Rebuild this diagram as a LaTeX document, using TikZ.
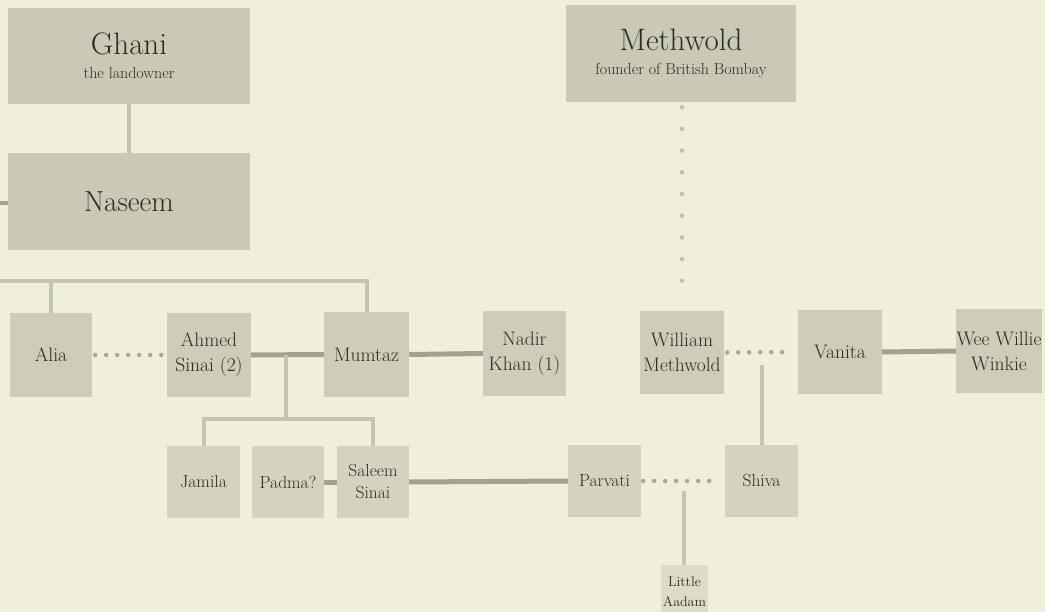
\documentclass[tikz,border=0pt]{standalone}
\usepackage{xcolor}
\definecolor{bgc}{HTML}{F0EFD9}
\definecolor{bigc}{HTML}{C9C9B6}
\definecolor{midc}{HTML}{CDCDBA}
\definecolor{smallc}{HTML}{D3D3BF}
\definecolor{tinyc}{HTML}{DCDCC7}
\definecolor{txtc}{HTML}{2B2B24}
\definecolor{lightc}{HTML}{C5C5B3}
\definecolor{darkc}{HTML}{A1A194}
\definecolor{dotc}{HTML}{A8A89A}
\definecolor{vdotc}{HTML}{C0C0AE}
\tikzset{
  box/.style={inner sep=0pt, align=center, text=txtc},
  bigbox/.style={box, fill=bigc, font=\fontsize{31}{24}\selectfont},
  midbox/.style={box, fill=midc, font=\fontsize{19.5}{25}\selectfont},
  smallbox/.style={box, fill=smallc, minimum width=73pt, minimum height=72pt, font=\fontsize{17.5}{22}\selectfont},
  thinline/.style={draw=lightc, line width=4pt},
  thickline/.style={draw=darkc, line width=5pt},
  dotline/.style={draw=dotc, line width=4.5pt, line cap=round, dash pattern=on 0pt off 11pt},
  vdotline/.style={draw=vdotc, line width=4.5pt, line cap=round, dash pattern=on 0pt off 21.7pt},
}
\newcommand{\subt}[1]{{\fontsize{16}{18}\selectfont #1}}
\begin{document}
\begin{tikzpicture}[x=1pt,y=-1pt]
\useasboundingbox (0,0) rectangle (1045,612);
\fill[bgc] (0,0) rectangle (1045,612);

% top boxes
\node[bigbox, minimum width=242pt, minimum height=96pt] (Ghani) at (129,56)
  {Ghani\\[0pt]\subt{the landowner}};
\node[bigbox, minimum width=242pt, minimum height=97pt, font=\fontsize{29}{30}\selectfont] (Naseem) at (129,201.5)
  {Naseem};
\node[bigbox, minimum width=230pt, minimum height=97pt] (Methwold) at (681,53.5)
  {Methwold\\[0pt]\subt{founder of British Bombay}};

% middle row
\node[midbox, minimum width=82pt, minimum height=84pt] (Alia) at (51,355) {Alia};
\node[midbox, minimum width=84pt, minimum height=84pt] (Ahmed) at (209,355) {Ahmed\\Sinai (2)};
\node[midbox, minimum width=85pt, minimum height=85pt] (Mumtaz) at (366.5,354.5) {Mumtaz};
\node[midbox, minimum width=83pt, minimum height=85pt] (Nadir) at (524.5,353.5) {Nadir\\Khan (1)};
\node[midbox, minimum width=84pt, minimum height=83pt] (William) at (682,352.5) {William\\Methwold};
\node[midbox, minimum width=84pt, minimum height=84pt] (Vanita) at (840,352) {Vanita};
\node[midbox, minimum width=86pt, minimum height=84pt] (Wee) at (999,351) {Wee Willie\\Winkie};

% bottom row
\node[smallbox] (Jamila) at (203.5,482) {Jamila};
\node[smallbox, minimum width=72pt] (Padma) at (288,482) {Padma?};
\node[smallbox, minimum width=72pt] (Saleem) at (373,482) {Saleem\\Sinai};
\node[smallbox] (Parvati) at (604.5,481) {Parvati};
\node[smallbox] (Shiva) at (761.5,481) {Shiva};
\node[box, fill=tinyc, minimum width=47pt, minimum height=47pt, font=\fontsize{14}{20}\selectfont, text depth=0pt] (Aadam) at (684.5,588.5) {};
\node[box, font=\fontsize{14}{20}\selectfont] (AadamTxt) at (684.5,592) {Little\\Aadam};

% free ends
\coordinate (stub) at (0,203);
\coordinate (barL) at (0,281);
\coordinate (kidTop) at (286,355);
\coordinate (kidBar) at (286,419);
\coordinate (shivaTop) at (762,365);
\coordinate (aadamTop) at (684,491);

% connectors
\draw[thinline] (Ghani.south) -- (Naseem.north);
\draw[draw=darkc, line width=4pt] (stub) -- (Naseem.west |- stub);
\draw[thinline] (barL) -- (Mumtaz.north |- barL) -- (Mumtaz.north);
\draw[thinline] (Alia.north |- barL) -- (Alia.north);
\draw[dotline, shorten <=3pt, shorten >=5pt] (Alia.east) -- (Ahmed.west);
\draw[thickline] (Ahmed.east) -- (Mumtaz.west);
\draw[thickline] (Mumtaz.east) -- (Nadir.west);
\draw[thinline] (kidTop) -- (kidBar);
\draw[thinline] (Jamila.north) -- (Jamila.north |- kidBar) -- (Saleem.north |- kidBar) -- (Saleem.north);
\draw[thickline] (Padma.east) -- (Saleem.west);
\draw[thickline] (Saleem.east) -- (Parvati.west);
\draw[dotline, shorten <=2pt, shorten >=5pt] (Parvati.east) -- (Shiva.west);
\draw[thinline] (aadamTop) -- (Aadam.north -| aadamTop);
\draw[vdotline, shorten <=5pt, shorten >=9pt] (Methwold.south -| William.north) -- (William.north);
\draw[dotline, shorten <=3pt, shorten >=6pt] (William.east) -- (Vanita.west);
\draw[thickline] (Vanita.east) -- (Wee.west);
\draw[thinline] (shivaTop) -- (Shiva.north -| shivaTop);
\end{tikzpicture}
\end{document}
